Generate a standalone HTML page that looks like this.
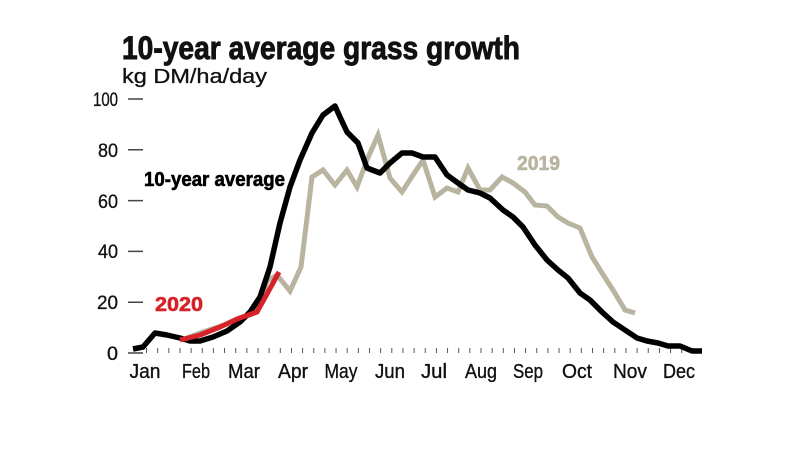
<!DOCTYPE html>
<html>
<head>
<meta charset="utf-8">
<style>
  html,body{margin:0;padding:0;background:#fff;}
  svg{display:block;}
  text{font-family:"Liberation Sans", "DejaVu Sans", sans-serif;}
</style>
</head>
<body>
<svg width="790" height="449" viewBox="0 0 790 449" xmlns="http://www.w3.org/2000/svg">
  <defs>
    <pattern id="wk" x="146" y="0" width="11.15" height="449" patternUnits="userSpaceOnUse">
      <rect x="0" y="348" width="1" height="5" fill="#555"/>
    </pattern>
  </defs>
  <rect width="790" height="449" fill="#fff"/>

  <text x="122" y="59" font-size="32" font-weight="bold" fill="#111" stroke="#111" stroke-width="0.9" textLength="398" lengthAdjust="spacingAndGlyphs">10-year average grass growth</text>
  <text x="122" y="83" font-size="20" fill="#111" stroke="#111" stroke-width="0.3" textLength="145" lengthAdjust="spacingAndGlyphs">kg DM/ha/day</text>

  <g font-size="19" fill="#111" stroke="#111" stroke-width="0.3" text-anchor="end">
    <text x="118" y="106" textLength="25" lengthAdjust="spacingAndGlyphs">100</text>
    <text x="118" y="157" textLength="20" lengthAdjust="spacingAndGlyphs">80</text>
    <text x="118" y="208" textLength="20" lengthAdjust="spacingAndGlyphs">60</text>
    <text x="118" y="258" textLength="20" lengthAdjust="spacingAndGlyphs">40</text>
    <text x="118" y="309" textLength="21" lengthAdjust="spacingAndGlyphs">20</text>
    <text x="118" y="360" textLength="11" lengthAdjust="spacingAndGlyphs">0</text>
  </g>
  <path d="M128 99H143M128 149.8H143M128 200.6H143M128 251.4H143M128 302.2H143M128 353H143" stroke="#444" stroke-width="1.5" fill="none"/>

  <rect x="146" y="345" width="548" height="10" fill="url(#wk)"/>

  <g font-size="20" fill="#111" stroke="#111" stroke-width="0.35" text-anchor="middle">
    <text x="145" y="378" textLength="31" lengthAdjust="spacingAndGlyphs">Jan</text>
    <text x="196" y="378" textLength="28" lengthAdjust="spacingAndGlyphs">Feb</text>
    <text x="244" y="378" textLength="32" lengthAdjust="spacingAndGlyphs">Mar</text>
    <text x="293" y="378" textLength="30" lengthAdjust="spacingAndGlyphs">Apr</text>
    <text x="341" y="378" textLength="33" lengthAdjust="spacingAndGlyphs">May</text>
    <text x="390" y="378" textLength="30" lengthAdjust="spacingAndGlyphs">Jun</text>
    <text x="434" y="378" textLength="26" lengthAdjust="spacingAndGlyphs">Jul</text>
    <text x="481" y="378" textLength="32" lengthAdjust="spacingAndGlyphs">Aug</text>
    <text x="528" y="378" textLength="30" lengthAdjust="spacingAndGlyphs">Sep</text>
    <text x="577" y="378" textLength="30" lengthAdjust="spacingAndGlyphs">Oct</text>
    <text x="630" y="378" textLength="34" lengthAdjust="spacingAndGlyphs">Nov</text>
    <text x="679" y="378" textLength="32" lengthAdjust="spacingAndGlyphs">Dec</text>
  </g>

  <polyline fill="none" stroke="#b8b4a0" stroke-width="5" stroke-linejoin="miter" stroke-miterlimit="6"
    points="182,340 200,333 230,323 257,312 267,281 277,275 290,291 301,267 312,177 323,170 335,185 347,170 357,187 367,160 378,135 390,178 402,192 413,175 423,160 435,197 447,188 458,192 468,168 480,190 490,190 502,177 513,183 525,192 535,205 547,206 558,217 568,223 580,228 592,257 602,273 613,290 625,310 635,313"/>

  <polyline fill="none" stroke="#000" stroke-width="5.5" stroke-linejoin="round"
    points="133,349 143,347 155,333 167,335 180,338 190,341 200,341 213,337 227,331 240,322 250,312 260,297 270,267 280,223 290,187 300,160 312,133 323,115 335,106 340,117 347,132 358,143 367,168 380,173 390,163 402,153 412,153 423,157 435,157 447,175 458,183 468,190 480,193 490,198 503,210 513,217 523,227 535,245 547,260 558,270 568,278 580,293 590,300 602,312 613,322 625,330 637,338 647,341 658,343 668,346 680,346 692,351 702,351"/>

  <polyline fill="none" stroke="#d8222a" stroke-width="5" stroke-linejoin="round"
    points="180,340 200,335 220,327 237,319 257,312 267,294 279,272"/>

  <text x="144" y="186" font-size="20" font-weight="bold" fill="#000" stroke="#000" stroke-width="0.6" textLength="141" lengthAdjust="spacingAndGlyphs">10-year average</text>
  <text x="155" y="311" font-size="20" font-weight="bold" fill="#d8222a" stroke="#d8222a" stroke-width="0.6" textLength="48" lengthAdjust="spacingAndGlyphs">2020</text>
  <text x="517" y="170" font-size="20" font-weight="bold" fill="#b8b4a0" stroke="#b8b4a0" stroke-width="0.6" textLength="43" lengthAdjust="spacingAndGlyphs">2019</text>
</svg>
</body>
</html>
